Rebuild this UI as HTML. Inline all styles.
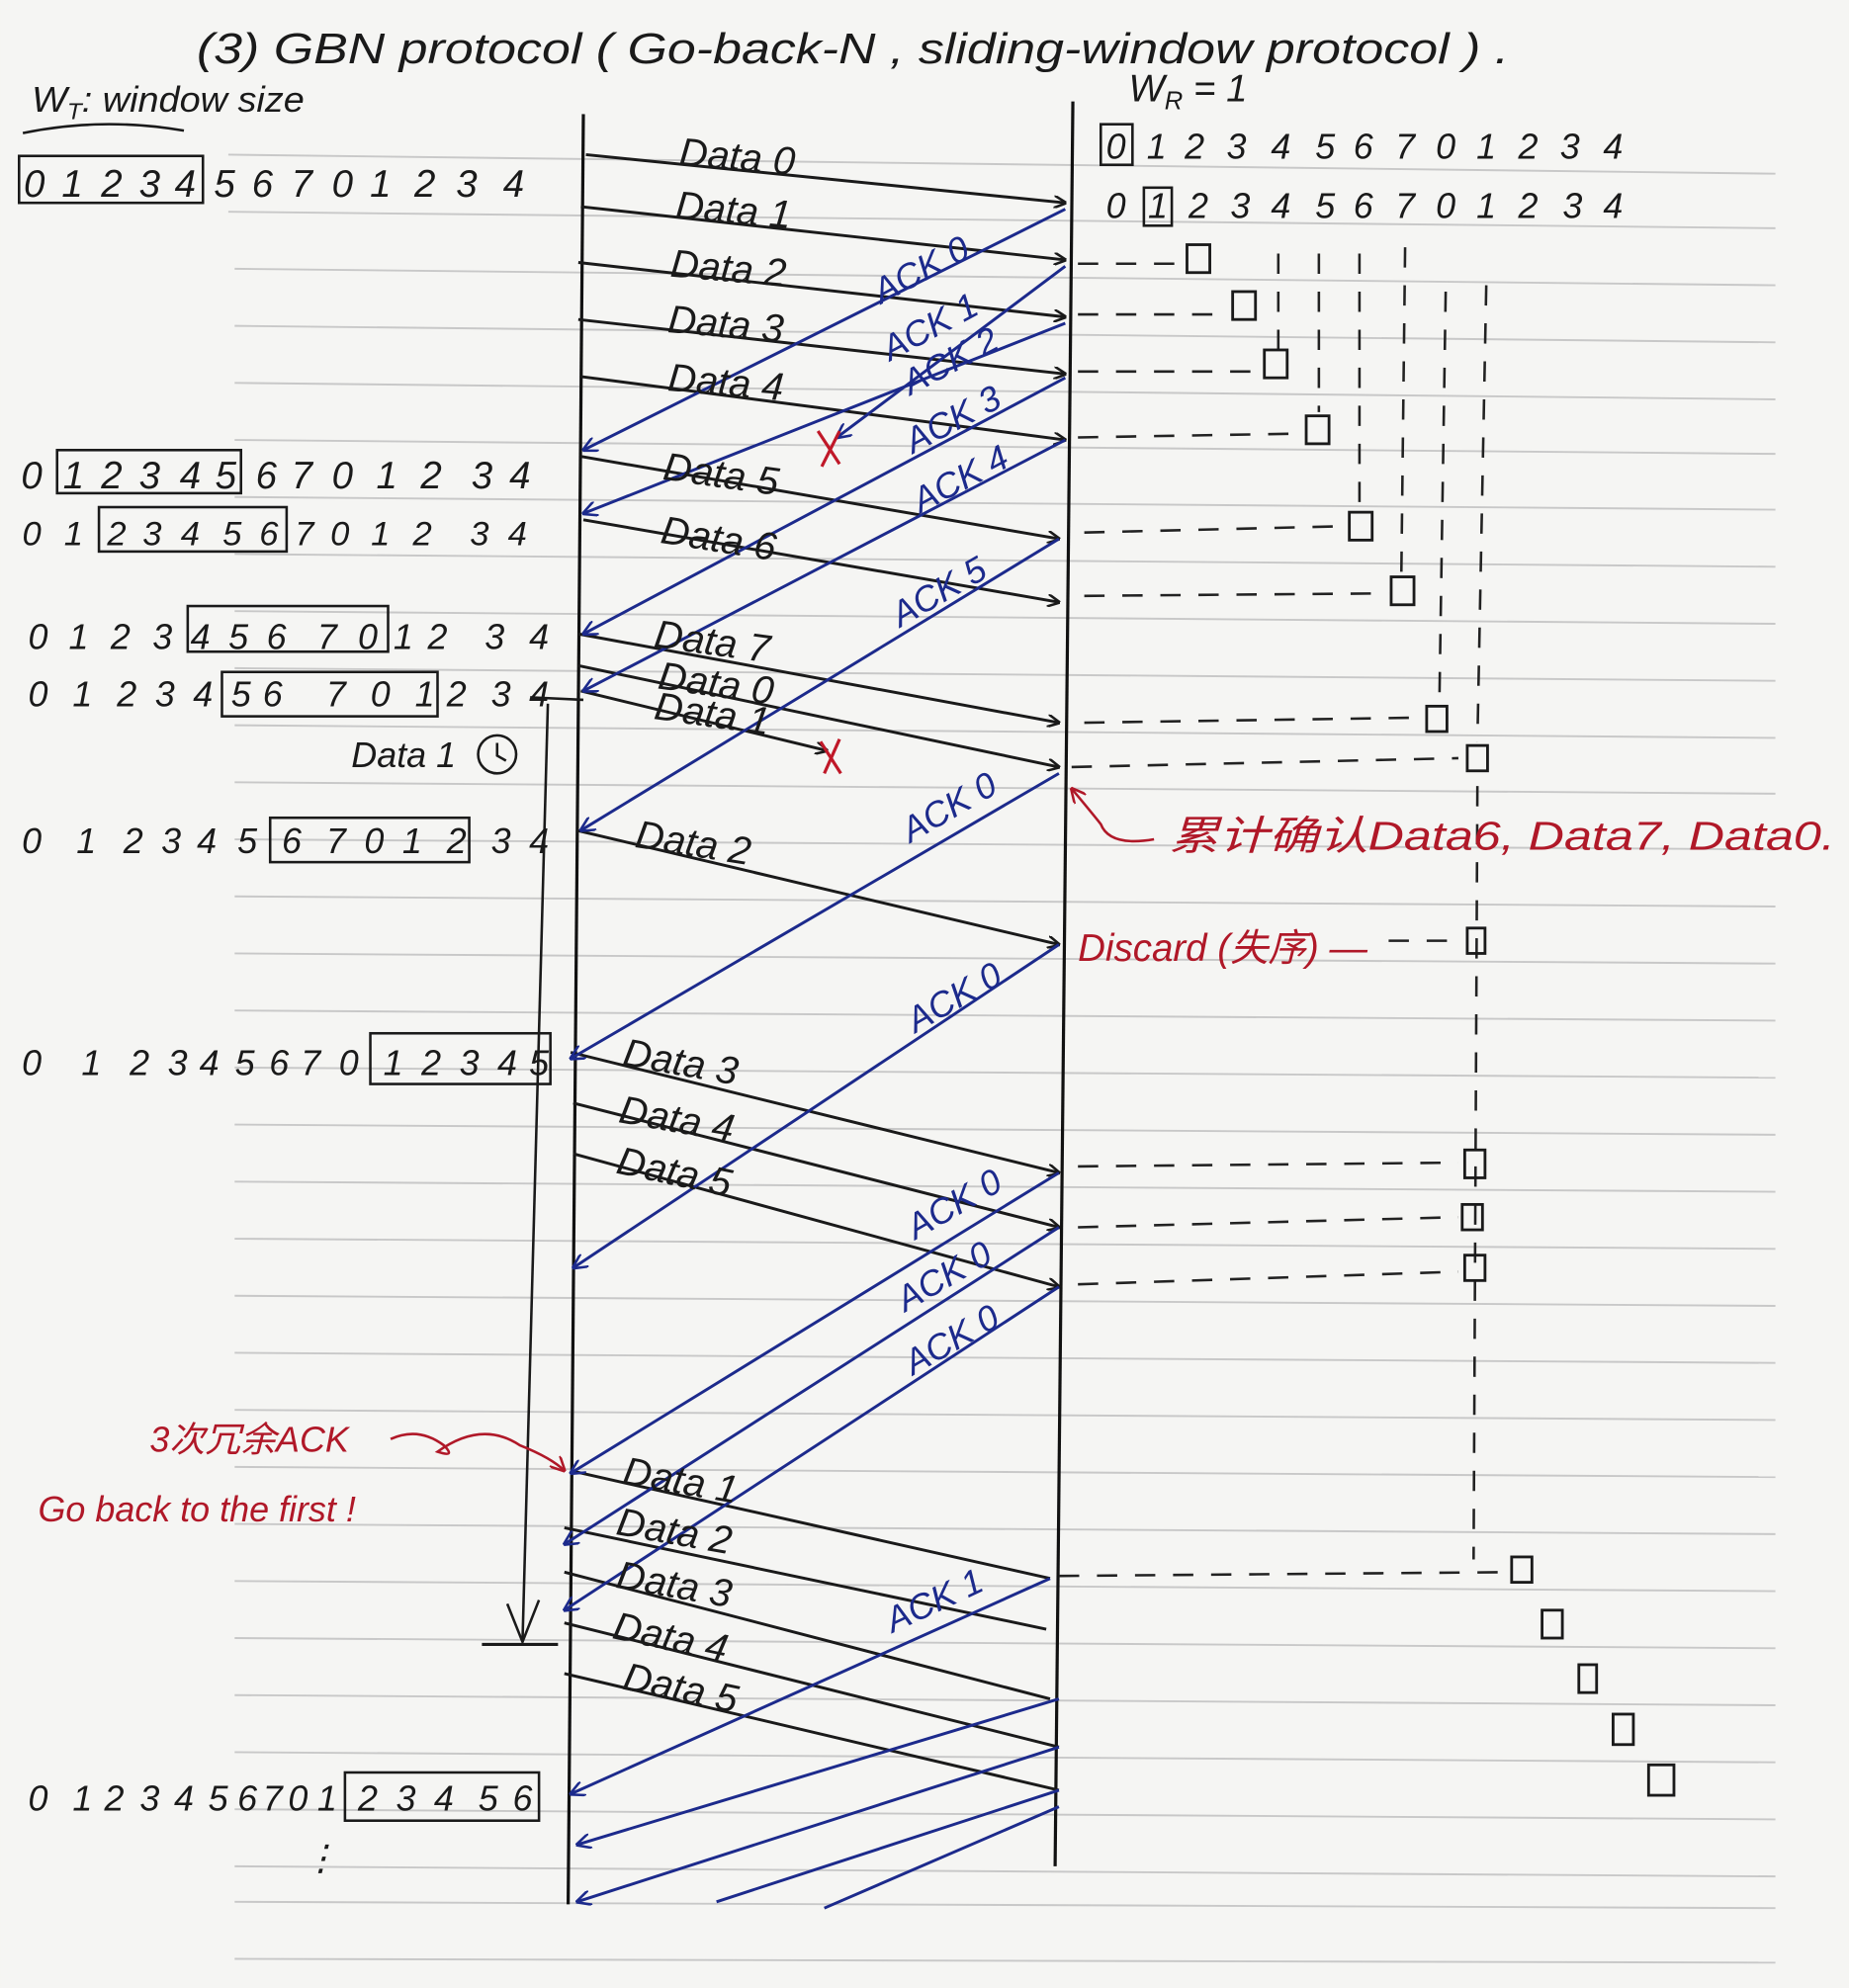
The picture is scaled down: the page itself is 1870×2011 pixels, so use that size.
<!DOCTYPE html>
<html><head><meta charset="utf-8"><style>
html,body{margin:0;padding:0;background:#f4f4f2;}
svg{display:block}
text{font-family:"Liberation Sans","Noto Sans CJK SC",sans-serif;}
.k{fill:#1a1a1a}
.b{fill:#1c2a8c}
.r{fill:#b01828}
</style></head><body>
<svg width="1870" height="2011" viewBox="0 0 1458 1568" xmlns="http://www.w3.org/2000/svg">
<defs>
<marker id="ak" markerWidth="10" markerHeight="10" refX="9" refY="5" orient="auto" markerUnits="userSpaceOnUse"><path d="M0,0 L10,5 L0,10" fill="none" stroke="#1a1a1a" stroke-width="2"/></marker>
<marker id="ab" markerWidth="12" markerHeight="12" refX="11" refY="6" orient="auto" markerUnits="userSpaceOnUse"><path d="M0,0 L12,6 L0,12" fill="none" stroke="#1c2a8c" stroke-width="2"/></marker>
<marker id="ar" markerWidth="12" markerHeight="12" refX="11" refY="6" orient="auto" markerUnits="userSpaceOnUse"><path d="M0,0 L12,6 L0,12" fill="none" stroke="#b01828" stroke-width="2"/></marker>
</defs>
<rect width="1458" height="1568" fill="#f5f5f3"/>
<g stroke="#c8c8c8" stroke-width="1.5">
<line x1="180" y1="122" x2="1400" y2="137"/><line x1="180" y1="167" x2="1400" y2="180"/>
<line x1="185" y1="212" x2="1400" y2="225"/><line x1="185" y1="257" x2="1400" y2="270"/>
<line x1="185" y1="302" x2="1400" y2="315"/><line x1="185" y1="347" x2="1400" y2="358"/>
<line x1="185" y1="392" x2="1400" y2="402"/><line x1="185" y1="437" x2="1400" y2="447"/>
<line x1="185" y1="482" x2="1400" y2="492"/><line x1="185" y1="527" x2="1400" y2="537"/>
<line x1="185" y1="572" x2="1400" y2="582"/><line x1="185" y1="617" x2="1400" y2="626"/>
<line x1="185" y1="662" x2="1400" y2="670"/><line x1="185" y1="707" x2="1400" y2="715"/>
<line x1="185" y1="752" x2="1400" y2="760"/><line x1="185" y1="797" x2="1400" y2="805"/>
<line x1="185" y1="842" x2="1400" y2="850"/><line x1="185" y1="887" x2="1400" y2="895"/>
<line x1="185" y1="932" x2="1400" y2="940"/><line x1="185" y1="977" x2="1400" y2="985"/>
<line x1="185" y1="1022" x2="1400" y2="1030"/><line x1="185" y1="1067" x2="1400" y2="1075"/>
<line x1="185" y1="1112" x2="1400" y2="1120"/><line x1="185" y1="1157" x2="1400" y2="1165"/>
<line x1="185" y1="1202" x2="1400" y2="1210"/><line x1="185" y1="1247" x2="1400" y2="1255"/>
<line x1="185" y1="1292" x2="1400" y2="1300"/><line x1="185" y1="1337" x2="1400" y2="1345"/>
<line x1="185" y1="1382" x2="1400" y2="1390"/><line x1="185" y1="1427" x2="1400" y2="1435"/>
<line x1="185" y1="1472" x2="1400" y2="1480"/><line x1="185" y1="1500" x2="1400" y2="1505"/>
<line x1="185" y1="1545" x2="1400" y2="1548"/>
</g>
<text x="155" y="50" font-size="34" class="k" font-style="italic" textLength="1035" lengthAdjust="spacingAndGlyphs">(3) GBN protocol ( Go-back-N , sliding-window protocol ) .</text>
<text x="25" y="88" font-size="28" class="k" font-style="italic" textLength="215" lengthAdjust="spacingAndGlyphs">W<tspan font-size="18" dy="6">T</tspan><tspan dy="-6">: window size</tspan></text>
<path d="M18,105 Q80,92 145,103" stroke="#1a1a1a" stroke-width="2" fill="none"/>
<text x="890" y="80" font-size="30" class="k" font-style="italic">W<tspan font-size="20" dy="6">R</tspan><tspan dy="-6"> = 1</tspan></text>
<line x1="460" y1="90" x2="448" y2="1502" stroke="#111" stroke-width="2.5"/>
<line x1="846" y1="80" x2="832" y2="1472" stroke="#111" stroke-width="2.5"/>
<g class="k" font-size="30" font-style="italic" text-anchor="middle">
<text x="27 57 88 118 146 177 207 238 270 300 335 368 405" y="155">0123456701234</text>
<text x="25 58 88 118 150 178 210 238 270 305 340 380 410" y="385">0123456701234</text>
<text font-size="27" x="25 58 92 120 150 183 212 240 268 300 333 378 408" y="430">0123456701234</text>
<text font-size="28" x="30 62 95 128 158 188 218 258 290 318 345 390 425" y="512">0123456701234</text>
<text font-size="28" x="30 65 100 130 160 190 215 265 300 335 360 395 425" y="557">0123456701234</text>
<text font-size="28" x="25 68 105 135 163 195 230 265 295 325 360 395 425" y="673">0123456701234</text>
<text font-size="28" x="25 72 110 140 165 193 220 245 275 310 340 370 400 425" y="848">01234567012345</text>
<text font-size="28" x="30 65 90 118 145 172 195 215 235 258 290 320 350 385 412" y="1428">012345670123456</text>
<text x="253" y="1475" font-size="28">⋮</text>
</g>
<g fill="none" stroke="#1a1a1a" stroke-width="2">
<rect x="15" y="123" width="145" height="37"/>
<rect x="45" y="355" width="145" height="34"/>
<rect x="78" y="400" width="148" height="35"/>
<rect x="148" y="478" width="158" height="36"/>
<rect x="175" y="530" width="170" height="35"/>
<rect x="213" y="645" width="157" height="35"/>
<rect x="292" y="815" width="142" height="40"/>
<rect x="272" y="1398" width="153" height="38"/>
</g>
<g class="k" font-size="28" font-style="italic" text-anchor="middle">
<text x="880 912 942 975 1010 1045 1075 1108 1140 1172 1205 1238 1272" y="125">0123456701234</text>
<text x="880 913 945 978 1010 1045 1075 1108 1140 1172 1205 1240 1272" y="172">0123456701234</text>
</g>
<g fill="none" stroke="#1a1a1a" stroke-width="2">
<rect x="868" y="98" width="25" height="32"/><rect x="902" y="148" width="22" height="30"/>
</g>
<g stroke="#222" stroke-width="2" stroke-dasharray="16,14" fill="none">
<line x1="850" y1="208" x2="935" y2="208"/><line x1="850" y1="248" x2="965" y2="248"/>
<line x1="850" y1="293" x2="995" y2="293"/><line x1="850" y1="345" x2="1025" y2="342"/>
<line x1="855" y1="420" x2="1062" y2="415"/><line x1="855" y1="470" x2="1095" y2="468"/>
<line x1="855" y1="570" x2="1120" y2="566"/><line x1="845" y1="605" x2="1150" y2="598"/>
<line x1="1095" y1="742" x2="1150" y2="742"/>
<line x1="850" y1="920" x2="1150" y2="917"/><line x1="850" y1="968" x2="1150" y2="960"/>
<line x1="850" y1="1013" x2="1150" y2="1003"/><line x1="835" y1="1243" x2="1190" y2="1240"/>
<line x1="1008" y1="200" x2="1008" y2="280"/><line x1="1040" y1="200" x2="1040" y2="325"/>
<line x1="1072" y1="200" x2="1072" y2="400"/><line x1="1108" y1="195" x2="1105" y2="455"/>
<line x1="1140" y1="230" x2="1135" y2="555"/><line x1="1172" y1="225" x2="1165" y2="585"/>
<line x1="1165" y1="620" x2="1162" y2="1230"/>
</g>
<g fill="none" stroke="#1a1a1a" stroke-width="2.2">
<rect x="936" y="193" width="18" height="22"/><rect x="972" y="230" width="18" height="22"/>
<rect x="997" y="276" width="18" height="22"/><rect x="1030" y="328" width="18" height="22"/>
<rect x="1064" y="404" width="18" height="22"/><rect x="1097" y="455" width="18" height="22"/>
<rect x="1125" y="557" width="16" height="20"/><rect x="1157" y="588" width="16" height="20"/>
<rect x="1157" y="732" width="14" height="20"/>
<rect x="1155" y="907" width="16" height="22"/><rect x="1153" y="950" width="16" height="20"/>
<rect x="1155" y="990" width="16" height="20"/>
<rect x="1192" y="1228" width="16" height="20"/><rect x="1216" y="1270" width="16" height="22"/>
<rect x="1245" y="1313" width="14" height="22"/><rect x="1272" y="1352" width="16" height="24"/>
<rect x="1300" y="1392" width="20" height="24"/>
</g>
<g stroke="#1a1a1a" stroke-width="2.3" fill="none" marker-end="url(#ak)">
<line x1="462" y1="122" x2="840" y2="160"/><line x1="458" y1="163" x2="840" y2="205"/>
<line x1="456" y1="207" x2="840" y2="250"/><line x1="456" y1="252" x2="840" y2="295"/>
<line x1="458" y1="297" x2="840" y2="347"/><line x1="458" y1="360" x2="835" y2="425"/>
<line x1="460" y1="410" x2="835" y2="475"/><line x1="456" y1="500" x2="835" y2="570"/>
<line x1="456" y1="525" x2="835" y2="605"/><line x1="458" y1="545" x2="652" y2="592"/>
<line x1="455" y1="655" x2="835" y2="745"/><line x1="450" y1="830" x2="835" y2="925"/>
<line x1="452" y1="870" x2="835" y2="968"/><line x1="452" y1="910" x2="835" y2="1015"/>
</g>
<g stroke="#1a1a1a" stroke-width="2.3" fill="none">
<line x1="450" y1="1160" x2="828" y2="1245"/><line x1="445" y1="1205" x2="825" y2="1285"/>
<line x1="445" y1="1240" x2="828" y2="1340"/><line x1="445" y1="1280" x2="835" y2="1378"/>
<line x1="445" y1="1320" x2="835" y2="1412"/>
</g>
<g stroke="#1c2a8c" stroke-width="2.3" fill="none" marker-end="url(#ab)">
<line x1="840" y1="165" x2="460" y2="355"/><line x1="840" y1="210" x2="660" y2="345"/>
<line x1="840" y1="255" x2="460" y2="405"/><line x1="840" y1="298" x2="460" y2="500"/>
<line x1="840" y1="347" x2="460" y2="545"/><line x1="835" y1="425" x2="458" y2="655"/>
<line x1="835" y1="610" x2="450" y2="835"/><line x1="835" y1="745" x2="452" y2="1000"/>
<line x1="835" y1="925" x2="450" y2="1162"/><line x1="835" y1="968" x2="445" y2="1218"/>
<line x1="835" y1="1015" x2="445" y2="1270"/><line x1="828" y1="1245" x2="450" y2="1415"/>
<line x1="835" y1="1340" x2="455" y2="1455"/><line x1="835" y1="1378" x2="455" y2="1500"/>
</g>
<g stroke="#1c2a8c" stroke-width="2.3" fill="none">
<line x1="835" y1="1412" x2="565" y2="1500"/><line x1="835" y1="1425" x2="650" y2="1505"/>
</g>
<g class="k" font-size="31" font-style="italic">
<text x="535" y="130" transform="rotate(5 535 130)">Data 0</text>
<text x="532" y="172" transform="rotate(5 532 172)">Data 1</text>
<text x="528" y="218" transform="rotate(5 528 218)">Data 2</text>
<text x="526" y="262" transform="rotate(5 526 262)">Data 3</text>
<text x="526" y="308" transform="rotate(5 526 308)">Data 4</text>
<text x="522" y="378" transform="rotate(8 522 378)">Data 5</text>
<text x="520" y="428" transform="rotate(9 520 428)">Data 6</text>
<text x="515" y="510" transform="rotate(8 515 510)">Data 7</text>
<text x="518" y="543" transform="rotate(8 518 543)">Data 0</text>
<text x="515" y="567" transform="rotate(8 515 567)">Data 1</text>
<text x="277" y="605" font-size="28">Data 1</text>
<text x="500" y="668" transform="rotate(9 500 668)">Data 2</text>
<text x="490" y="840" transform="rotate(10 490 840)">Data 3</text>
<text x="487" y="885" transform="rotate(10 487 885)">Data 4</text>
<text x="485" y="925" transform="rotate(12 485 925)">Data 5</text>
<text x="490" y="1170" transform="rotate(10 490 1170)">Data 1</text>
<text x="485" y="1210" transform="rotate(10 485 1210)">Data 2</text>
<text x="485" y="1252" transform="rotate(10 485 1252)">Data 3</text>
<text x="482" y="1292" transform="rotate(12 482 1292)">Data 4</text>
<text x="490" y="1332" transform="rotate(12 490 1332)">Data 5</text>
</g>
<circle cx="392" cy="595" r="15" fill="none" stroke="#1a1a1a" stroke-width="2"/>
<path d="M392,586 L392,596 L399,600" stroke="#1a1a1a" stroke-width="2" fill="none"/>
<line x1="432" y1="555" x2="412" y2="1295" stroke="#1a1a1a" stroke-width="2"/>
<path d="M400,1265 L412,1295 L425,1262" stroke="#1a1a1a" stroke-width="2" fill="none"/>
<line x1="380" y1="1297" x2="440" y2="1297" stroke="#1a1a1a" stroke-width="2.5"/>
<line x1="418" y1="550" x2="460" y2="552" stroke="#1a1a1a" stroke-width="2"/>
<g class="b" font-size="28" font-style="italic">
<text x="695" y="240" transform="rotate(-28 695 240)">ACK 0</text>
<text x="702" y="285" transform="rotate(-28 702 285)">ACK 1</text>
<text x="718" y="312" transform="rotate(-28 718 312)">ACK 2</text>
<text x="720" y="358" transform="rotate(-28 720 358)">ACK 3</text>
<text x="726" y="405" transform="rotate(-28 726 405)">ACK 4</text>
<text x="710" y="495" transform="rotate(-30 710 495)">ACK 5</text>
<text x="718" y="665" transform="rotate(-30 718 665)">ACK 0</text>
<text x="722" y="815" transform="rotate(-30 722 815)">ACK 0</text>
<text x="722" y="978" transform="rotate(-30 722 978)">ACK 0</text>
<text x="714" y="1035" transform="rotate(-30 714 1035)">ACK 0</text>
<text x="720" y="1085" transform="rotate(-30 720 1085)">ACK 0</text>
<text x="704" y="1288" transform="rotate(-25 704 1288)">ACK 1</text>
</g>
<g stroke="#c01828" stroke-width="2.5">
<line x1="645" y1="340" x2="662" y2="366"/><line x1="662" y1="340" x2="648" y2="368"/>
<line x1="647" y1="585" x2="663" y2="610"/><line x1="662" y1="583" x2="650" y2="610"/>
</g>
<path d="M910,662 Q875,668 868,650 Q860,640 845,622" stroke="#b01828" stroke-width="2" fill="none" marker-end="url(#ar)"/>
<text x="922" y="670" font-size="32" class="r" font-style="italic" textLength="525" lengthAdjust="spacingAndGlyphs">累计确认Data6, Data7, Data0.</text>
<text x="850" y="758" font-size="30" class="r" font-style="italic">Discard (失序) —</text>
<text x="118" y="1145" font-size="28" class="r" font-style="italic">3次冗余ACK</text>
<text x="30" y="1200" font-size="28" class="r" font-style="italic">Go back to the first !</text>
<path d="M308,1135 Q330,1125 350,1140 Q360,1150 345,1145 Q380,1120 410,1140 Q435,1150 445,1160" stroke="#b01828" stroke-width="2" fill="none" marker-end="url(#ar)"/>
</svg>
</body></html>
